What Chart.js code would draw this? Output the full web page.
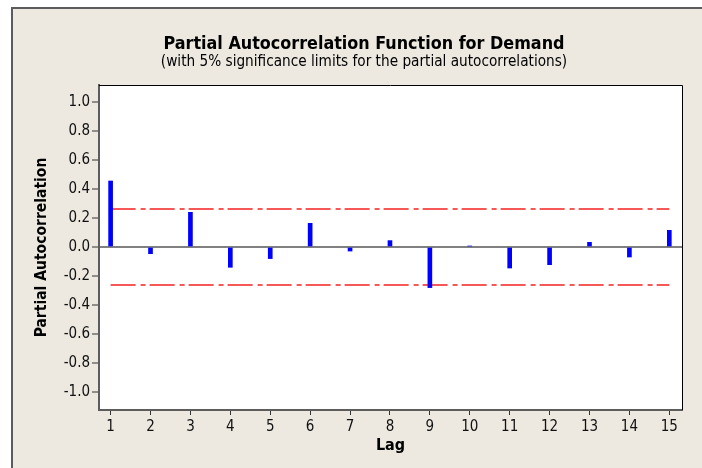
<!DOCTYPE html>
<html lang="en">
<head>
<meta charset="UTF-8">
<title>Partial Autocorrelation Function for Demand</title>
<script src="https://cdn.jsdelivr.net/npm/chart.js"></script>
<style>
    html, body {
        margin: 0;
        padding: 0;
        background: #fff;
    }
    body {
        width: 702px;
        height: 468px;
        position: relative;
        overflow: hidden;
    }
    .frame {
        position: absolute;
        left: 11px;
        top: 7px;
        right: 0;
        bottom: 0;
        background: #ede9e0;
        border-left: 2px solid #5c5c5c;
        border-top: 2px solid #5c5c5c;
    }
    #pacfChart {
        position: absolute;
        left: 0;
        top: 0;
    }
</style>
</head>
<body>
<div class="frame"></div>
<canvas id="pacfChart" width="702" height="468"></canvas>
<script>
    // Values
    const lags = [1, 2, 3, 4, 5, 6, 7, 8, 9, 10, 11, 12, 13, 14, 15];
    const pacf = [0.455, -0.046, 0.239, -0.14, -0.08, 0.163, -0.028, 0.044,
                  -0.28, 0.007, -0.145, -0.122, 0.032, -0.069, 0.115];
    const limitLags = [1, 15];
    const upperLimit = [0.262, 0.262];
    const lowerLimit = [-0.262, -0.262];
    const yTicks = [-1.0, -0.8, -0.6, -0.4, -0.2, 0, 0.2, 0.4, 0.6, 0.8, 1.0];

    const titleText = 'Partial Autocorrelation Function for Demand';
    const subtitleText = '(with 5% significance limits for the partial autocorrelations)';

    const fontFamily = '"DejaVu Sans Condensed", "DejaVu Sans", sans-serif';
    const titleX = 364;

    // Plot background, headings and the box round the plot
    const framePlugin = {
        id: 'framePlugin',
        beforeDraw(chart) {
            const { ctx, chartArea } = chart;
            ctx.save();
            ctx.fillStyle = '#ffffff';
            ctx.fillRect(chartArea.left, chartArea.top,
                chartArea.right - chartArea.left, chartArea.bottom - chartArea.top);
            ctx.fillStyle = '#000';
            ctx.textAlign = 'center';
            ctx.textBaseline = 'alphabetic';
            ctx.font = 'bold 17.8px ' + fontFamily;
            ctx.fillText(titleText, titleX, 49);
            ctx.font = '15.2px ' + fontFamily;
            ctx.fillText(subtitleText, titleX, 66);
            ctx.restore();
        },
        afterDraw(chart) {
            const { ctx, chartArea } = chart;
            ctx.save();
            ctx.strokeStyle = '#000';
            ctx.lineWidth = 1;
            ctx.beginPath();
            ctx.moveTo(chartArea.left, chartArea.top + 0.5);
            ctx.lineTo(chartArea.right + 0.5, chartArea.top + 0.5);
            ctx.lineTo(chartArea.right + 0.5, chartArea.bottom);
            ctx.stroke();
            ctx.restore();
        }
    };

    const ctx = document.getElementById('pacfChart').getContext('2d');
    const pacfChart = new Chart(ctx, {
        type: 'bar',
        data: {
            datasets: [{
                type: 'bar',
                data: lags.map((l, i) => ({ x: l, y: pacf[i] })),
                backgroundColor: '#0000ff',
                barThickness: 4,
                order: 1
            }, {
                type: 'line',
                data: limitLags.map((l, i) => ({ x: l, y: upperLimit[i] })),
                borderColor: '#f42020',
                borderWidth: 1.5,
                borderDash: [25, 5, 5, 4],
                pointRadius: 0,
                order: 2
            }, {
                type: 'line',
                data: limitLags.map((l, i) => ({ x: l, y: lowerLimit[i] })),
                borderColor: '#f42020',
                borderWidth: 1.5,
                borderDash: [25, 5, 5, 4],
                pointRadius: 0,
                order: 2
            }]
        },
        options: {
            responsive: false,
            animation: false,
            layout: {
                padding: { top: 85, right: 20, bottom: 0, left: 14 }
            },
            plugins: {
                legend: { display: false },
                tooltip: { enabled: false }
            },
            scales: {
                x: {
                    type: 'linear',
                    min: 0.709,
                    max: 15.318,
                    offset: false,
                    afterBuildTicks: scale => {
                        scale.ticks = lags.map(v => ({ value: v }));
                    },
                    afterFit: scale => {
                        scale.height = 58;
                    },
                    grid: {
                        offset: false,
                        drawOnChartArea: false,
                        tickLength: 5,
                        tickColor: '#333',
                        tickWidth: 1
                    },
                    border: { color: '#5c5c5c', width: 2 },
                    ticks: {
                        color: '#111',
                        font: { family: fontFamily, size: 15 },
                        padding: 3,
                        maxRotation: 0,
                        autoSkip: false
                    },
                    title: {
                        display: true,
                        text: 'Lag',
                        color: '#000',
                        font: { family: fontFamily, size: 16, weight: 'bold' },
                        padding: { top: 0, bottom: 12.6 }
                    }
                },
                y: {
                    min: -1.124,
                    max: 1.117,
                    afterBuildTicks: scale => {
                        scale.ticks = yTicks.map(v => ({ value: v }));
                    },
                    afterFit: scale => {
                        scale.width = 85;
                    },
                    grid: {
                        color: c => (c.tick && c.tick.value === 0) ? '#808080' : 'rgba(0,0,0,0)',
                        lineWidth: c => (c.tick && c.tick.value === 0) ? 2 : 0,
                        tickLength: 7,
                        tickColor: '#333',
                        tickWidth: 1
                    },
                    border: { color: '#5c5c5c', width: 2 },
                    ticks: {
                        color: '#111',
                        font: { family: fontFamily, size: 15 },
                        padding: 2,
                        callback: v => v.toFixed(1)
                    },
                    title: {
                        display: true,
                        text: 'Partial Autocorrelation',
                        color: '#000',
                        font: { family: fontFamily, size: 15.5, weight: 'bold' },
                        padding: { top: 19, bottom: 0 }
                    }
                }
            }
        },
        plugins: [framePlugin]
    });
</script>
</body>
</html>
